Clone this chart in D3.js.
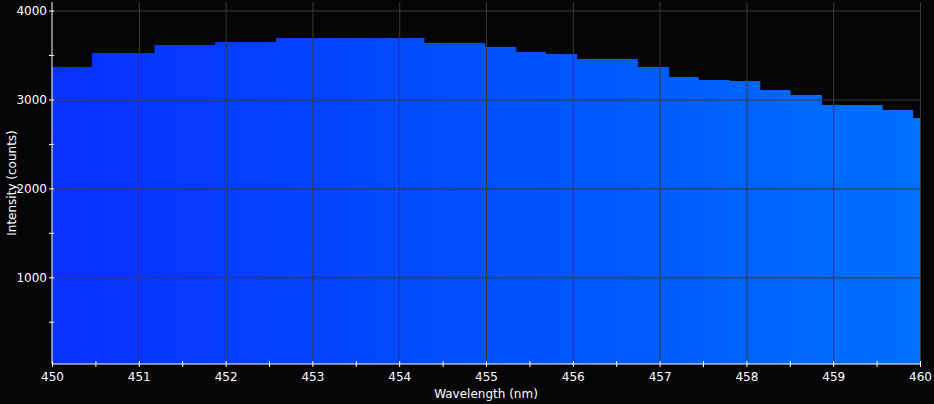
<!DOCTYPE html>
<html>
<head>
<meta charset="utf-8">
<script src="https://cdn.jsdelivr.net/npm/d3@7"></script>
<style>
  body { margin: 0; background: #050507; }
  svg { display: block; }
  text { font-family: "DejaVu Sans", sans-serif; fill: #fff; }
</style>
</head>
<body>
<script>
var w = 934;
var h = 404;

// step start wavelengths (nm) and intensities (counts), last step runs to 460
var wavelengths = [450, 450.46, 451.18, 451.88, 452.58, 454.29, 454.99, 455.35, 455.69, 456.05,
                   456.75, 457.11, 457.45, 457.81, 458.16, 458.51, 458.87, 459.57, 459.92, 460];
var counts = [3366, 3523, 3613, 3647, 3692, 3635, 3590, 3535, 3512, 3455,
              3366, 3253, 3219, 3208, 3107, 3051, 2939, 2882, 2792, 2792];

var xTicks = [450, 451, 452, 453, 454, 455, 456, 457, 458, 459, 460];
var yTicks = [1000, 2000, 3000, 4000];

var data = wavelengths.map(function(d, i) { return {wl: d, c: counts[i]}; });

var xScale = d3.scaleLinear().domain([450, 460]).range([52, 920]);
var yScale = d3.scaleLinear().domain([25, 4096]).range([364, 2]);

var svg = d3.select("body").append("svg")
    .attr("width", w)
    .attr("height", h);

// spectrum colour along x
var grad = svg.append("defs").append("linearGradient")
    .attr("id", "spec")
    .attr("gradientUnits", "userSpaceOnUse")
    .attr("x1", xScale(450)).attr("x2", xScale(460))
    .attr("y1", 0).attr("y2", 0);
grad.append("stop").attr("offset", "0%").attr("stop-color", "rgb(8,48,255)");
grad.append("stop").attr("offset", "50%").attr("stop-color", "rgb(0,80,255)");
grad.append("stop").attr("offset", "100%").attr("stop-color", "rgb(0,112,255)");

var area = d3.area()
    .curve(d3.curveStepAfter)
    .x(function(d) { return xScale(d.wl); })
    .y0(yScale(25))
    .y1(function(d) { return yScale(d.c); });

svg.append("path")
    .datum(data)
    .attr("d", area)
    .attr("fill", "url(#spec)");

// grid on top of the spectrum
svg.append("g")
    .attr("transform", "translate(0,364)")
    .call(d3.axisBottom(xScale).tickValues(xTicks.slice(1)).tickSize(-362).tickFormat(""))
    .call(function(g) {
        g.select(".domain").remove();
        g.selectAll("line").attr("stroke", "#3a3a3a");
    });
svg.append("g")
    .attr("transform", "translate(52,0)")
    .call(d3.axisLeft(yScale).tickValues(yTicks).tickSize(-869).tickFormat(""))
    .call(function(g) {
        g.select(".domain").remove();
        g.selectAll("line").attr("stroke", "#3a3a3a");
    });

// X axis
var xMinor = d3.range(450, 460.01, 0.5);
var xAxis = svg.append("g")
    .attr("transform", "translate(0,364)")
    .call(d3.axisBottom(xScale).tickValues(xMinor).tickSize(3)
        .tickFormat(function(d) { return d % 1 === 0 ? d : ""; }));
xAxis.select(".domain").attr("stroke", "#fff").attr("d", "M52,0H920");
xAxis.selectAll("line").attr("stroke", "#fff").attr("y1", -3).attr("y2", 3);
xAxis.selectAll("text").attr("font-size", "12px").attr("dy", "0.9em")
    .attr("font-family", "DejaVu Sans, sans-serif").attr("fill", "#fff");

// Y axis
var yMinor = d3.range(500, 4001, 500);
var yAxis = svg.append("g")
    .attr("transform", "translate(52,0)")
    .call(d3.axisLeft(yScale).tickValues(yMinor).tickSize(2)
        .tickFormat(function(d) { return d % 1000 === 0 ? d : ""; }));
yAxis.select(".domain").attr("stroke", "#fff").attr("d", "M0,2V364");
yAxis.selectAll("line").attr("stroke", "#fff").attr("x1", -3).attr("x2", 2);
yAxis.selectAll("text").attr("font-size", "12px").attr("x", -5)
    .attr("font-family", "DejaVu Sans, sans-serif").attr("fill", "#fff");

// titles
svg.append("text")
    .attr("x", 486).attr("y", 398)
    .attr("text-anchor", "middle")
    .attr("font-size", "12px")
    .text("Wavelength (nm)");
svg.append("text")
    .attr("transform", "translate(16,183) rotate(-90)")
    .attr("text-anchor", "middle")
    .attr("font-size", "12px")
    .text("Intensity (counts)");
</script>
</body>
</html>
